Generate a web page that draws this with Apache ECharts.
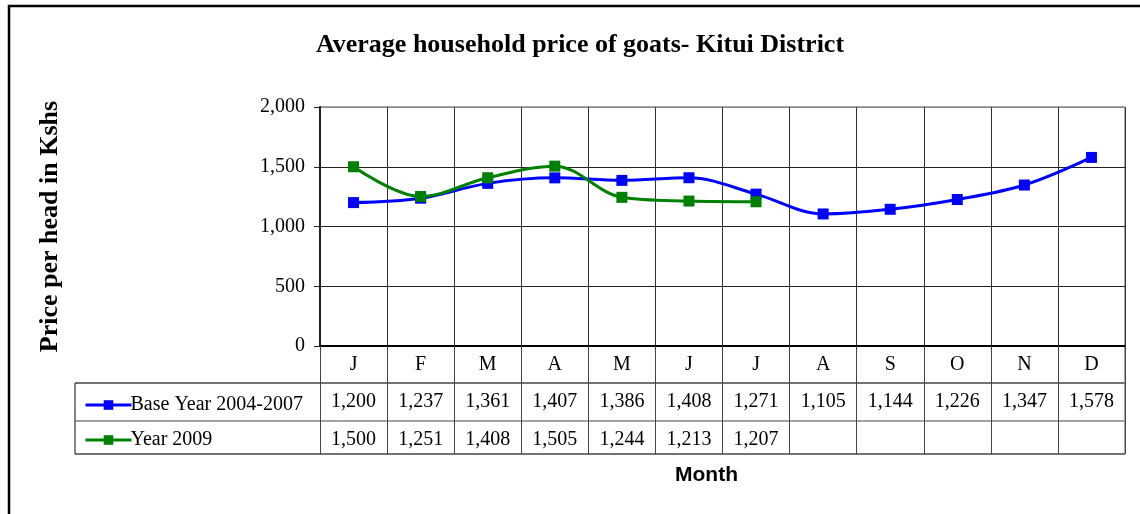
<!DOCTYPE html>
<html>
<head>
<meta charset="utf-8">
<script src="https://cdn.jsdelivr.net/npm/echarts@6/dist/echarts.min.js"></script>
<style>
    html,body{margin:0;padding:0;background:#fff;}
    #chart{width:1140px;height:514px;}
</style>
</head>
<body>
<div id="chart"></div>
<script>
    // data
    var months = ['J','F','M','A','M','J','J','A','S','O','N','D'];
    var baseName = 'Base Year 2004-2007';
    var baseYear = [1200,1237,1361,1407,1386,1408,1271,1105,1144,1226,1347,1578];
    var y2009Name = 'Year 2009';
    var year2009 = [1500,1251,1408,1505,1244,1213,1207,null,null,null,null,null];
    var yTicks = [0,500,1000,1500,2000];

    function fmt(v){
        if(v==null) return '';
        return String(v).replace(/\B(?=(\d{3})+(?!\d))/g, ',');
    }

    var serif = '"Liberation Serif","Times New Roman",serif';
    //layout of the plot and table
    var gL=320, gR=1125, gT=107, zeroY=346;
    var rows=[37,38,33];
    var row1=zeroY+rows[0], row2=row1+rows[1], row3=row2+rows[2];
    var tableL=75;

    function tableAxis(offset,len,fmtFn){
        return {
            type:'category',
            data:months,
            position:'bottom',
            offset:offset,
            boundaryGap:true,
            axisLine:{show:false},
            axisTick:{show:true,interval:0,length:len,lineStyle:{color:'#444',width:1}},
            axisLabel:{interval:0,margin:9,color:'#000',fontFamily:serif,fontSize:20,formatter:fmtFn},
            splitLine:{show:false}
        };
    }

    var option = {
        animation:false,
        backgroundColor:'#fff',
        title:{
            text:'Average household price of goats- Kitui District',
            left:575, textAlign:'center', top:27,
            textStyle:{fontFamily:serif,fontWeight:'bold',fontSize:26,color:'#000'}
        },
        legend:{
            orient:'vertical',
            left:79, top:390,
            itemWidth:46, itemHeight:12, itemGap:15,
            lineStyle:{width:3},
            textStyle:{fontFamily:serif,fontSize:20,color:'#000',padding:[0,0,0,-6]},
            data:[baseName,y2009Name]
        },
        grid:{left:gL,right:1140-gR,top:gT,bottom:514-zeroY,containLabel:false},
        xAxis:[
            {
                type:'category',
                data:months,
                position:'bottom',
                boundaryGap:true,
                axisLine:{show:true,lineStyle:{color:'#000',width:2}},
                axisTick:{show:true,interval:0,length:rows[0],lineStyle:{color:'#444',width:1}},
                axisLabel:{interval:0,margin:9,color:'#000',fontFamily:serif,fontSize:20},
                splitLine:{show:true,interval:0,lineStyle:{color:'#333',width:1}}
            },
            tableAxis(rows[0],rows[1],function(v,i){return fmt(baseYear[i]);}),
            tableAxis(rows[0]+rows[1],rows[2],function(v,i){return fmt(year2009[i]);})
        ],
        yAxis:{
            type:'value',
            min:0, max:2000, interval:500,
            name:'Price per head in Kshs',
            nameLocation:'middle',
            nameGap:257,
            nameTextStyle:{fontFamily:serif,fontWeight:'bold',fontSize:26,color:'#000'},
            axisLine:{show:true,lineStyle:{color:'#222',width:2}},
            axisTick:{show:true,length:6,lineStyle:{color:'#222'}},
            axisLabel:{margin:15,color:'#000',fontFamily:serif,fontSize:20,formatter:function(v){return fmt(v);}},
            splitLine:{show:true,lineStyle:{color:['#222','#222','#222','#222','#888'],width:1}}
        },
        series:[
            {
                name:baseName,
                type:'line',
                data:baseYear,
                smooth:0.35,
                symbol:'rect',
                symbolSize:11,
                lineStyle:{color:'#0000ff',width:3},
                itemStyle:{color:'#0000ff'},
                z:3
            },
            {
                name:y2009Name,
                type:'line',
                data:year2009,
                smooth:0.35,
                symbol:'rect',
                symbolSize:11,
                connectNulls:false,
                lineStyle:{color:'#008000',width:3},
                itemStyle:{color:'#008000'},
                z:4
            }
        ],
        graphic:[
            //outer frame
            {type:'rect',shape:{x:9,y:6,width:1150,height:530},style:{fill:null,stroke:'#000',lineWidth:2.5},silent:true},
            //table rules
            {type:'line',shape:{x1:tableL,y1:row1,x2:gR,y2:row1},style:{stroke:'#444',lineWidth:1.3}},
            {type:'line',shape:{x1:tableL,y1:row2,x2:gR,y2:row2},style:{stroke:'#444',lineWidth:1}},
            {type:'line',shape:{x1:tableL,y1:row3,x2:gR,y2:row3},style:{stroke:'#444',lineWidth:1.3}},
            {type:'line',shape:{x1:tableL,y1:row1,x2:tableL,y2:row3},style:{stroke:'#444',lineWidth:1.3}},
            {type:'line',shape:{x1:gR,y1:gT,x2:gR,y2:row3},style:{stroke:'#888',lineWidth:1.5}},
            {type:'line',shape:{x1:gL,y1:gT,x2:gR,y2:gT},style:{stroke:'#888',lineWidth:1.5}},
            {type:'text',left:675,top:465,style:{text:'Month',font:'bold 21px "Liberation Sans",Arial,sans-serif',fill:'#000'}}
        ]
    };

    var myChart=echarts.init(document.getElementById('chart'));
    myChart.setOption(option);
</script>
</body>
</html>
